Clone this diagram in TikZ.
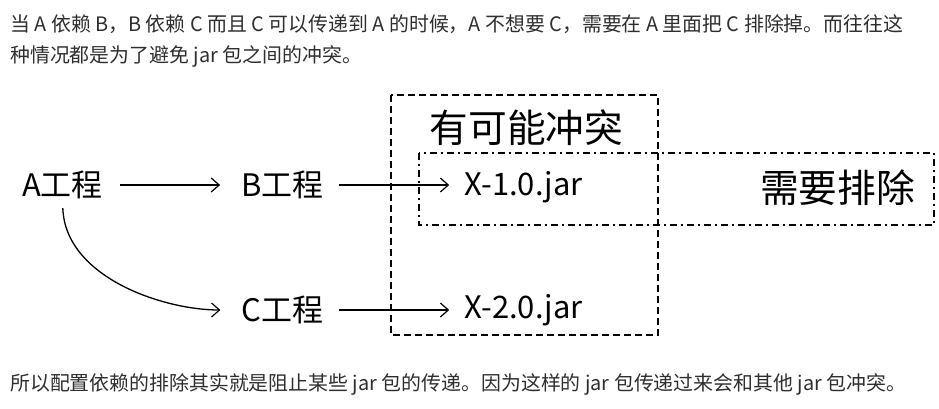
\documentclass[tikz,border=0pt]{standalone}
\usepackage{fontspec}
\setmainfont{Noto Sans CJK SC}
\usetikzlibrary{arrows.meta,calc}
\begin{document}
\begin{tikzpicture}[x=1pt,y=-1pt,
  para/.style={anchor=west,inner sep=0pt,text=black!82,font=\fontsize{19.9}{20}\selectfont},
  proj/.style={inner sep=0pt,font=\fontsize{31}{31}\selectfont},
  big/.style={inner sep=0pt,font=\fontsize{38.7}{39}\selectfont},
  arr/.style={-{Straight Barb[length=8pt,width=14pt,line width=1.2pt]},line width=1.3pt},
  dashbox/.style={draw,line width=1.5pt,dash pattern=on 7pt off 4pt},
  dashdotbox/.style={draw,line width=1.5pt,dash pattern=on 7pt off 4pt on 2pt off 4pt}]
\useasboundingbox (0,0) rectangle (939,408);
\node[para] (t1) at (10,24) {当 A 依赖 B，B 依赖 C 而且 C 可以传递到 A 的时候，A 不想要 C，需要在 A 里面把 C 排除掉。而往往这};
\node[para] (t2) at (10,56) {种情况都是为了避免 jar 包之间的冲突。};
\node[para] (t3) at (10,384) {所以配置依赖的排除其实就是阻止某些 jar 包的传递。因为这样的 jar 包传递过来会和其他 jar 包冲突。};
\draw[dashbox] (391,95) rectangle (658,335);
\draw[dashdotbox] (419,153) rectangle (934,225);
\node[proj] (a) at (62.5,185) {A工程};
\node[proj] (b) at (282.5,185) {B工程};
\node[proj] (c) at (282.5,310) {C工程};
\node[proj] (x1) at (523.5,187) {X-1.0.jar};
\node[proj] (x2) at (523.5,310) {X-2.0.jar};
\node[big] (conf) at (526.5,128) {有可能冲突};
\node[big] (ex) at (837.5,188) {需要排除};
\draw[arr,shorten <=17pt,shorten >=21pt] (a.east) -- (b.west);
\draw[arr,shorten <=15pt,shorten >=15pt] (b.east) -- (x1.west |- b.east);
\draw[arr,shorten <=15pt,shorten >=15pt] (c.east) -- (x2.west |- c.east);
\draw[arr,shorten <=9pt,shorten >=21pt] (a.south) to[out=-88,in=180,looseness=0.95] (c.west);
\end{tikzpicture}
\end{document}
